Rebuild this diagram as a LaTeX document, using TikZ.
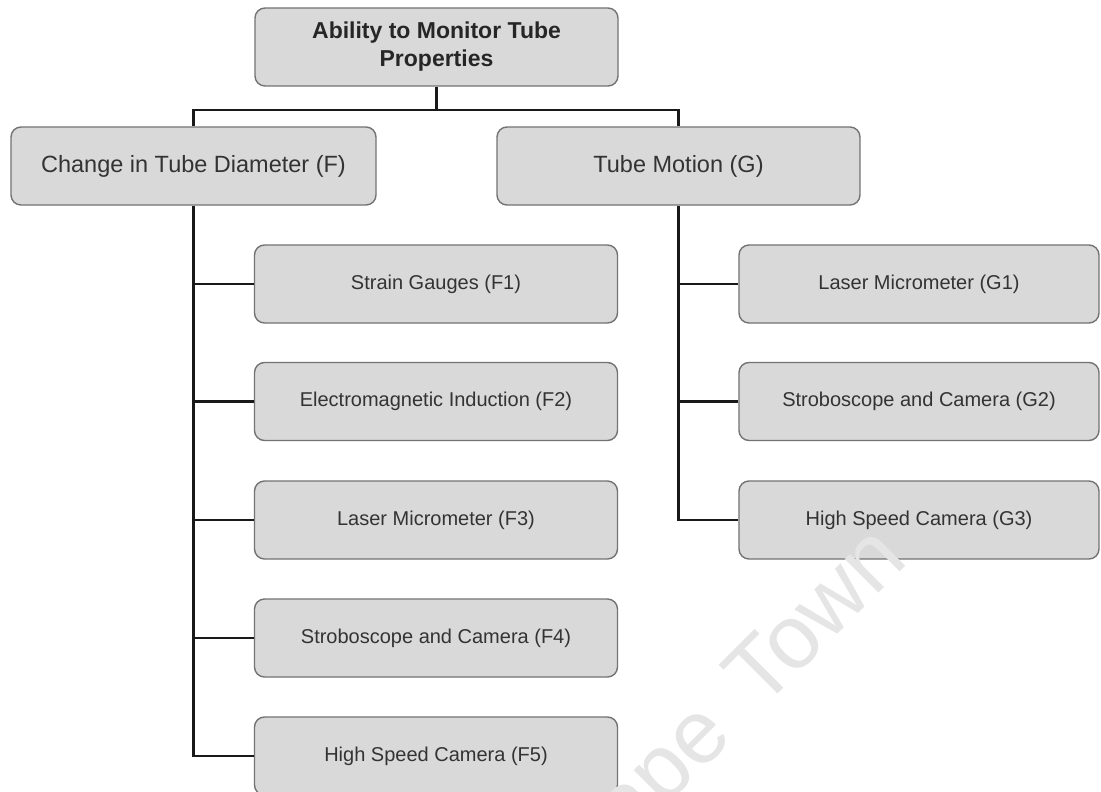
\documentclass[tikz,border=0pt]{standalone}
\usepackage{fontspec}
\setmainfont{Liberation Sans}
\begin{document}
\begin{tikzpicture}[x=1pt,y=-1pt,
  box/.style={draw=black!55, line width=1.4pt, fill=black!15, rounded corners=10pt,
    minimum height=78pt, align=center, inner sep=0pt},
  topbox/.style={box, minimum width=363pt, font=\fontsize{23}{28}\selectfont\bfseries, text=black!85},
  midbox/.style={box, minimum width=365pt, font=\fontsize{23.5}{27}\selectfont, text=black!80},
  leafbox/.style={box, minimum width=363pt, font=\fontsize{20}{24}\selectfont, text=black!80},
  link/.style={draw=black!90, line width=2.8pt}]
  \useasboundingbox (0,0) rectangle (1101,792);
  \fill[white] (0,0) rectangle (1101,792);

  % top level
  \node[topbox] (top) at (436.5,47) {Ability to Monitor Tube\\Properties};

  % second level
  \node[midbox] (F) at (193.5,166) {Change in Tube Diameter (F)};
  \node[midbox, minimum width=363pt] (G) at (678.5,166) {Tube Motion (G)};

  % measurement methods for diameter change
  \node[leafbox] (F1) at (436,284) {Strain Gauges (F1)};
  \node[leafbox] (F2) at (436,401.5) {Electromagnetic Induction (F2)};
  \node[leafbox] (F3) at (436,520) {Laser Micrometer (F3)};
  \node[leafbox] (F4) at (436,638) {Stroboscope and Camera (F4)};
  \node[leafbox] (F5) at (436,756) {High Speed Camera (F5)};

  % measurement methods for tube motion
  \node[leafbox, minimum width=360pt] (G1) at (919,284) {Laser Micrometer (G1)};
  \node[leafbox, minimum width=360pt] (G2) at (919,401.5) {Stroboscope and Camera (G2)};
  \node[leafbox, minimum width=360pt] (G3) at (919,520) {High Speed Camera (G3)};

  % connectors
  \coordinate (bus) at (436.5,110);
  \draw[link] (top.south) -- (bus);
  \draw[link] (F.north) |- (bus) -| (G.north);

  \draw[link] (F.south) |- (F5.west);
  \foreach \n in {F1,F2,F3,F4}
    \draw[link] (F.south |- \n.west) -- (\n.west);

  \draw[link] (G.south) |- (G3.west);
  \foreach \n in {G1,G2}
    \draw[link] (G.south |- \n.west) -- (\n.west);

  % faint stamp laid over everything
  \node[text=black!10, font=\fontsize{90}{90}\selectfont, rotate=45, anchor=base east,
    inner sep=0pt] (stamp) at (910,562) {Cape\hspace{13pt} Town};
\end{tikzpicture}
\end{document}
